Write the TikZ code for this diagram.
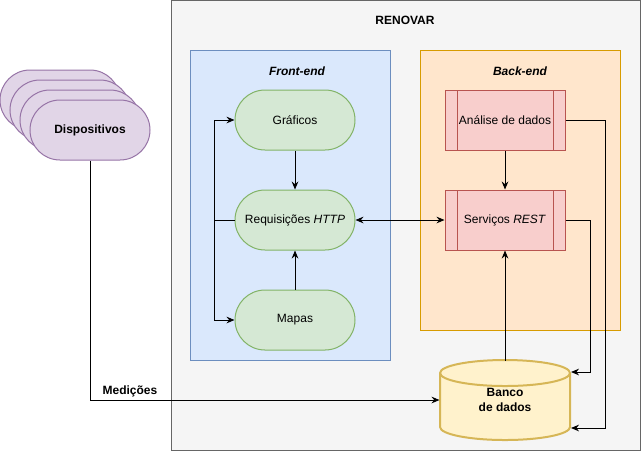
\documentclass[tikz,border=0pt]{standalone}
\usepackage{fontspec}
\setmainfont{Liberation Sans}
\usetikzlibrary{arrows.meta}
\definecolor{outerfill}{HTML}{F5F5F5}
\definecolor{outerline}{HTML}{666666}
\definecolor{bluefill}{HTML}{DAE8FC}
\definecolor{blueline}{HTML}{6C8EBF}
\definecolor{orangefill}{HTML}{FFE6CC}
\definecolor{orangeline}{HTML}{D79B00}
\definecolor{greenfill}{HTML}{D5E8D4}
\definecolor{greenline}{HTML}{82B366}
\definecolor{redfill}{HTML}{F8CECC}
\definecolor{redline}{HTML}{B85450}
\definecolor{yellowfill}{HTML}{FFF2CC}
\definecolor{yellowline}{HTML}{D6B656}
\definecolor{purplefill}{HTML}{E1D5E7}
\definecolor{purpleline}{HTML}{9673A6}
\tikzset{
  arr/.style={-{Stealth[length=6pt,width=5pt,inset=2pt]}, line width=0.75pt},
  arrboth/.style={{Stealth[length=6pt,width=5pt,inset=2pt]}-{Stealth[length=6pt,width=5pt,inset=2pt]}, line width=0.75pt},
  pill/.style={draw=greenline, fill=greenfill, rectangle, rounded corners=22.5pt, minimum width=90pt, minimum height=45pt, inner sep=0pt},
  devbox/.style={draw=purpleline, fill=purplefill, rectangle, rounded corners=22.5pt, minimum width=90pt, minimum height=45pt, inner sep=0pt, font=\fontsize{9}{11}\selectfont\bfseries},
  procbox/.style={draw=redline, fill=redfill, rectangle, minimum width=90pt, minimum height=45pt, inner sep=0pt,
    path picture={\draw[redline, line width=0.75pt] ([xshift=9pt]path picture bounding box.north west) -- ([xshift=9pt]path picture bounding box.south west);
                  \draw[redline, line width=0.75pt] ([xshift=-9pt]path picture bounding box.north east) -- ([xshift=-9pt]path picture bounding box.south east);}},
  lbl/.style={font=\fontsize{9}{11}\selectfont\bfseries, inner sep=1pt},
  ttl/.style={font=\fontsize{9}{11}\selectfont\bfseries\itshape, inner sep=1pt}
}
\begin{document}
\begin{tikzpicture}[x=0.75pt, y=-0.75pt, line width=0.75pt, font=\fontsize{9}{11}\selectfont]
\useasboundingbox (0,0) rectangle (641,451);
% outer container
\draw[outerline, fill=outerfill] (171,0.5) rectangle (640,450);
\node[lbl] (renovar) at (405,20) {RENOVAR};
% front-end / back-end containers
\draw[blueline, fill=bluefill] (190,50) rectangle (390,360);
\node[ttl] (fe) at (297,71) {Front-end};
\draw[orangeline, fill=orangefill] (420,50) rectangle (620,330);
\node[ttl] (be) at (520,71) {Back-end};
% front-end nodes
\node[pill] (graf) at (295,120) {Gráficos};
\node[pill] (req) at (295,220) {Requisições \textit{HTTP}};
\node[pill] (mapas) at (295,320) {Mapas};
% back-end nodes
\node[procbox] (ana) at (505,120) {Análise de dados};
\node[procbox] (serv) at (505,220) {Serviços \textit{REST}};
% database
\node[rectangle, minimum width=97.5pt, minimum height=60pt, inner sep=0pt] (db) at (505,400) {};
\draw[yellowline, fill=yellowfill, line width=1.5pt]
  (440,373) -- (440,427) arc[start angle=180, end angle=360, x radius=48.75pt, y radius=9.75pt]
  -- (570,373) arc[start angle=0, end angle=180, x radius=48.75pt, y radius=9.75pt] -- cycle;
\draw[yellowline, line width=1.5pt] (440,373) arc[start angle=180, end angle=360, x radius=48.75pt, y radius=9.75pt];
\node[lbl, align=center] (dbtext) at (505,400) {Banco\\de dados};
\coordinate (dbin1) at (571,372);
\coordinate (dbin2) at (571,428);
% devices stack
\node[devbox] (d3) at (60,100) {};
\node[devbox] (d2) at (70,110) {};
\node[devbox] (d1) at (80,120) {};
\node[devbox] (disp) at (90,130) {Dispositivos};
% connectors
\draw[arr] (graf.south) -- (req.north);
\draw[arr] (mapas.north) -- (req.south);
\draw[arr] (req.west) -- ++(-20,0) |- (graf.west);
\draw[arr] (req.west) -- ++(-20,0) |- (mapas.west);
\draw[arrboth] (req.east) -- (serv.west);
\draw[arr] (ana.south) -- (serv.north);
\draw[arr] (505,360.5) -- (serv.south);
\draw[arr] (serv.east) -- ++(25,0) |- (dbin1);
\draw[arr] (ana.east) -- ++(40,0) |- (dbin2);
\draw[arr] (disp.south) |- (db.west);
\node[lbl] (med) at (130,391) {Medições};
\end{tikzpicture}
\end{document}
